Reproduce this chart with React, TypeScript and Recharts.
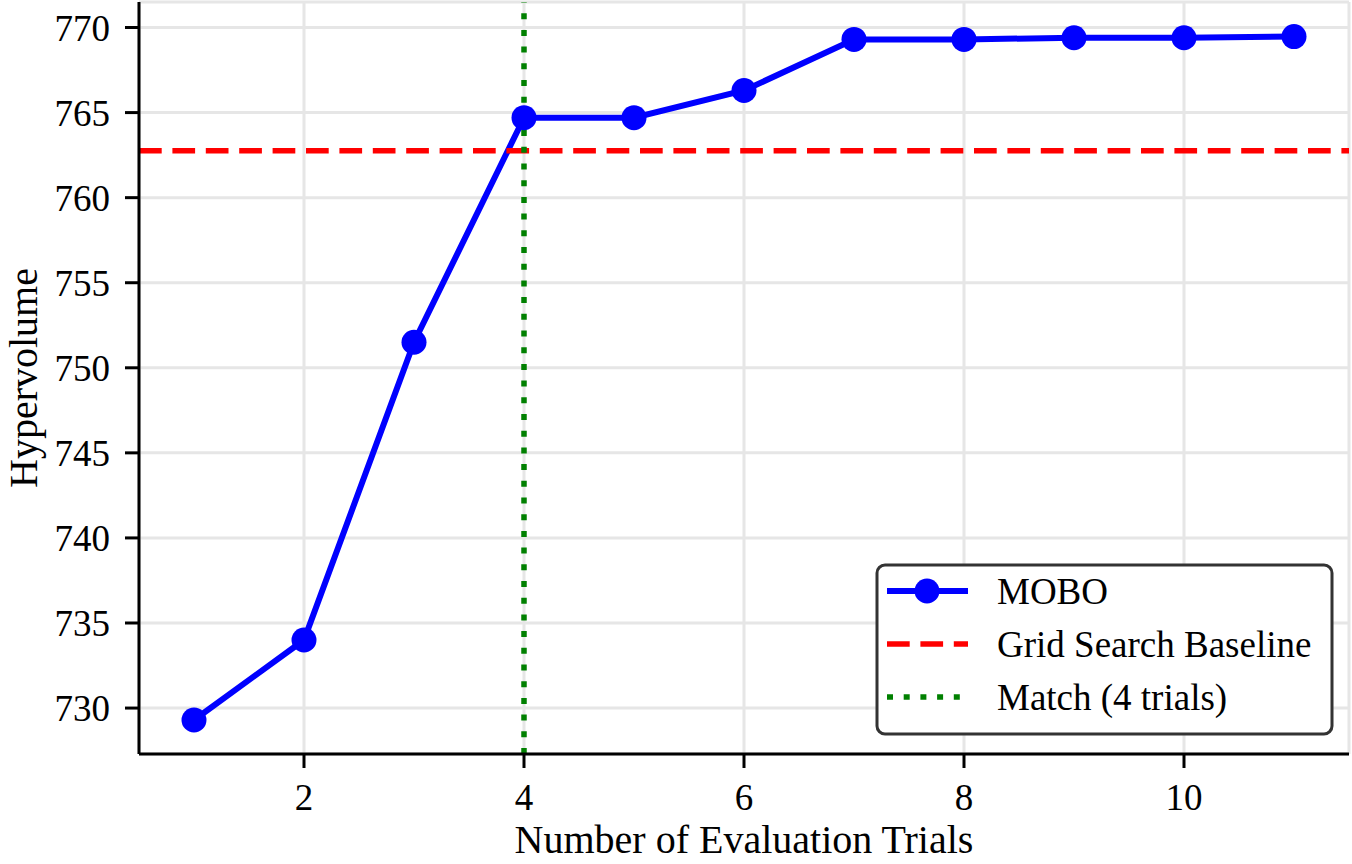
import React from 'react';
import {
  LineChart,
  Line,
  CartesianGrid,
  XAxis,
  YAxis,
  ReferenceLine,
} from 'recharts';

const trials = [1, 2, 3, 4, 5, 6, 7, 8, 9, 10, 11];
const hypervolume = [729.3, 734.0, 751.5, 764.7, 764.7, 766.3, 769.3, 769.3, 769.4, 769.4, 769.47];
const baseline = 762.76;
const matchTrial = 4;
const xTicks = [2, 4, 6, 8, 10];
const yTicks = [730, 735, 740, 745, 750, 755, 760, 765, 770];
const seriesNames = ['MOBO', 'Grid Search Baseline', 'Match (4 trials)'];

const data = trials.map((t, i) => ({ trial: t, hv: hypervolume[i] }));

const FONT = '"Liberation Serif", "Times New Roman", serif';

function XTick(props: any) {
  const { x, y, payload } = props;
  return (
    <text x={x} y={y + 27} textAnchor='middle' fontSize={37} fontFamily={FONT} fill='#000'>
      {payload.value}
    </text>
  );
}

function YTick(props: any) {
  const { x, y, payload } = props;
  return (
    <text x={x} y={y + 13} textAnchor='end' fontSize={37} fontFamily={FONT} fill='#000'>
      {payload.value}
    </text>
  );
}

function XLabel(props: any) {
  const vb = props.viewBox;
  return (
    <text x={vb.x + vb.width / 2} y={853} textAnchor='middle' fontSize={40} fontFamily={FONT} fill='#000'>
      Number of Evaluation Trials
    </text>
  );
}

function YLabel(props: any) {
  const vb = props.viewBox;
  const cx = 37;
  const cy = vb.y + vb.height / 2;
  return (
    <text x={cx} y={cy} transform={`rotate(-90, ${cx}, ${cy})`} textAnchor='middle' fontSize={40} fontFamily={FONT} fill='#000'>
      Hypervolume
    </text>
  );
}

function LegendBox() {
  const row = (i: number) => {
    const y = 28 + i * 53;
    let sample;
    if (i === 0) {
      sample = (
        <g>
          <line x1={12} x2={93} y1={y} y2={y} stroke='#0000ff' strokeWidth={6} />
          <circle cx={52} cy={y} r={12.5} fill='#0000ff' />
        </g>
      );
    } else if (i === 1) {
      sample = <line x1={12} x2={93} y1={y} y2={y} stroke='#ff0000' strokeWidth={5.5} strokeDasharray='22.7 10.7' />;
    } else {
      sample = <line x1={12} x2={93} y1={y} y2={y} stroke='#008000' strokeWidth={5.5} strokeDasharray='6 10.7' />;
    }
    return (
      <g key={i}>
        {sample}
        <text x={122} y={y + 13} fontSize={37} fontFamily={FONT} fill='#000'>
          {seriesNames[i]}
        </text>
      </g>
    );
  };
  return (
    <svg width={460} height={174} style={{ position: 'absolute', left: 875, top: 563 }}>
      <rect x={2} y={2} width={455} height={169} rx={8} ry={8} fill='#fff' stroke='#333' strokeWidth={3} />
      {[0, 1, 2].map(row)}
    </svg>
  );
}

export default function App() {
  return (
    <div style={{ position: 'absolute', left: 0, top: 0, width: 1352, height: 864, background: '#fff', fontFamily: FONT }}>
      <LineChart width={1352} height={864} data={data} margin={{ top: 2, right: 3, bottom: 0, left: 0 }}>
        <CartesianGrid stroke='#e6e6e6' strokeWidth={3} />
        <XAxis
          dataKey='trial'
          type='number'
          domain={[0.5, 11.5]}
          ticks={xTicks}
          allowDataOverflow
          height={110}
          tick={<XTick />}
          tickSize={14}
          tickMargin={15}
          axisLine={{ stroke: '#000', strokeWidth: 3 }}
          tickLine={{ stroke: '#000', strokeWidth: 3 }}
          label={<XLabel />}
        />
        <XAxis
          xAxisId='top'
          orientation='top'
          dataKey='trial'
          type='number'
          domain={[0.5, 11.5]}
          height={0}
          tick={false}
          tickLine={false}
          axisLine={{ stroke: '#000', strokeWidth: 3 }}
        />
        <YAxis
          type='number'
          domain={[727.3, 771.5]}
          ticks={yTicks}
          allowDataOverflow
          width={139}
          tick={<YTick />}
          tickSize={14}
          tickMargin={15}
          axisLine={{ stroke: '#000', strokeWidth: 3 }}
          tickLine={{ stroke: '#000', strokeWidth: 3 }}
          label={<YLabel />}
        />
        <YAxis
          yAxisId='right'
          orientation='right'
          type='number'
          domain={[727.3, 771.5]}
          width={0}
          tick={false}
          tickLine={false}
          axisLine={{ stroke: '#000', strokeWidth: 3 }}
        />
        <Line
          dataKey='hv'
          stroke='#0000ff'
          strokeWidth={6}
          dot={{ r: 12.5, fill: '#0000ff', stroke: 'none' }}
          activeDot={false}
          isAnimationActive={false}
        />
        <ReferenceLine y={baseline} stroke='#ff0000' strokeWidth={5.5} strokeDasharray='22.7 10.7' />
        <ReferenceLine x={matchTrial} stroke='#008000' strokeWidth={5.5} strokeDasharray='6 10.7' />
      </LineChart>
      <LegendBox />
    </div>
  );
}
